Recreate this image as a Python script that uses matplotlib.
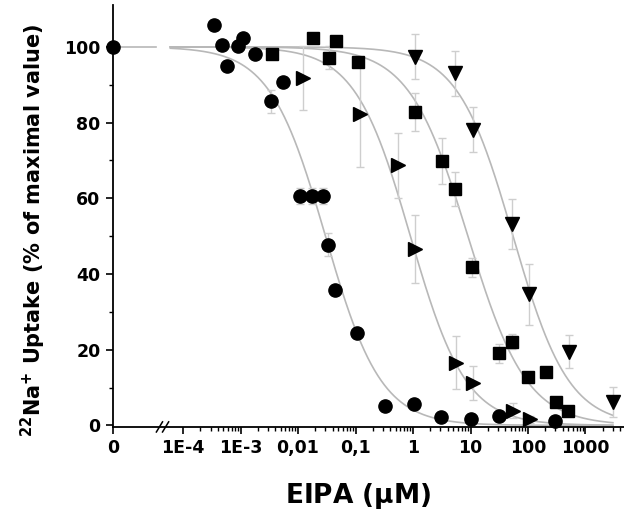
import numpy as np
import matplotlib
matplotlib.use("Agg")
import matplotlib.pyplot as plt
from matplotlib.ticker import FixedLocator, FixedFormatter, NullFormatter

plt.rcParams['font.family'] = ['DejaVu Sans']
plt.rcParams['font.weight'] = 'bold'
plt.rcParams['mathtext.fontset'] = 'custom'
plt.rcParams['mathtext.rm'] = 'DejaVu Sans:bold'
plt.rcParams['mathtext.bf'] = 'DejaVu Sans:bold'

# EIPA concentrations (uM) and 22Na+ uptake (% of max), one set per marker
circle_x = [0, 3.5e-4, 4.7e-4, 5.7e-4, 9e-4, 1.1e-3, 1.8e-3, 3.4e-3, 5.5e-3,
            0.0108, 0.0174, 0.0275, 0.033, 0.044, 0.105, 0.32, 1.05, 3.1, 10, 31.5, 300]
circle_y = [100, 105.8, 100.4, 94.9, 100.3, 102.4, 98.2, 85.6, 90.6,
            60.6, 60.6, 60.6, 47.7, 35.7, 24.3, 5.2, 5.7, 2.2, 1.8, 2.4, 1.1]
circle_err = [0, 0, 0, 0, 0, 0, 0, 3, 0, 2, 2, 2, 3, 0, 0, 0, 0, 0, 0, 0, 0]

tri_r_x = [0.0123, 0.12, 0.556, 1.08, 5.6, 11.2, 54, 108]
tri_r_y = [91.7, 82.2, 68.7, 46.6, 16.6, 11.2, 3.9, 1.6]
tri_r_err = [8.5, 14, 8.5, 9, 7, 4.6, 2, 1]

square_x = [3.5e-3, 0.018, 0.034, 0.045, 0.112, 1.08, 3.24, 5.4, 10.7, 31.4, 52, 102, 205, 303, 500]
square_y = [98.1, 102.4, 97.1, 101.5, 96.1, 82.8, 69.8, 62.4, 41.8, 19.1, 22.1, 12.9, 14.1, 6.2, 3.8]
square_err = [0, 0, 3, 0, 0, 5, 6, 4.5, 2.5, 2.5, 2, 0, 0, 1, 0]

tri_d_x = [1.08, 5.4, 11, 52, 106, 515, 3000]
tri_d_y = [97.4, 93, 78.1, 53.2, 34.6, 19.5, 6.2]
tri_d_err = [6, 6, 6, 6.5, 8, 4.4, 4]

# fitted dose-response curves: IC50 (uM) and Hill slope
ic50 = [0.03, 0.9, 9, 55]
hill = [0.9, 0.9, 0.85, 0.9]

tick_vals = [0, 1e-4, 1e-3, 1e-2, 1e-1, 1, 10, 100, 1000]
tick_labels = ['0', '1E-4', '1E-3', '0,01', '0,1', '1', '10', '100', '1000']

ZERO_POS = -5.22  # where "0" sits on the log axis


def fwd(x):
    x = np.asarray(x, dtype=float)
    with np.errstate(divide='ignore', invalid='ignore'):
        u = np.log10(np.where(x > 0, x, 1.0))
    return np.where(x > 0, u, ZERO_POS)


def inv(u):
    return 10.0 ** np.asarray(u, dtype=float)


fig = plt.figure(figsize=(6.24, 5.2), dpi=100)
ax = fig.add_axes([0.181, 0.179, 0.819, 0.811])
ax.set_xscale('function', functions=(fwd, inv))
ax.set_xlim(0, 10 ** 3.67)
ax.set_ylim(-0.4, 111)

curve_col = '#b8b8b8'
err_col = '#cecece'

# flat part between 0 and the axis break
ax.plot([0, 3.4e-5], [100, 100], color=curve_col, lw=1.2, zorder=1)
xc = np.logspace(np.log10(6e-5), np.log10(3000), 400)
for c, n in zip(ic50, hill):
    ax.plot(xc, 100 / (1 + (xc / c) ** n), color=curve_col, lw=1.2, zorder=1)

series = [
    (circle_x, circle_y, circle_err, 'o', 9.5),
    (tri_r_x, tri_r_y, tri_r_err, '>', 10),
    (square_x, square_y, square_err, 's', 8.5),
    (tri_d_x, tri_d_y, tri_d_err, 'v', 10),
]
for xs, ys, es, mk, ms in series:
    xs = np.array(xs, dtype=float)
    ys = np.array(ys, dtype=float)
    es = np.array(es, dtype=float)
    has = es > 0
    ax.errorbar(xs[has], ys[has], yerr=es[has], fmt='none', ecolor=err_col,
                elinewidth=1, capsize=3, capthick=1, zorder=2)
    ax.plot(xs, ys, mk, color='black', ms=ms, mec='black', clip_on=False, zorder=3)

# axis break marks
for dx in (0.0, 0.012):
    ax.plot([0.085 + dx, 0.097 + dx], [-0.012, 0.012], transform=ax.transAxes,
            color='black', lw=1.1, clip_on=False, zorder=4)

ax.spines['top'].set_visible(False)
ax.spines['right'].set_visible(False)
for s in ('left', 'bottom'):
    ax.spines[s].set_linewidth(1.3)

ax.xaxis.set_major_locator(FixedLocator(tick_vals))
ax.xaxis.set_major_formatter(FixedFormatter(tick_labels))
minor = [m * 10.0 ** e for e in range(-4, 4) for m in range(2, 10) if m * 10.0 ** e < 10 ** 3.67]
ax.xaxis.set_minor_locator(FixedLocator(minor))
ax.xaxis.set_minor_formatter(NullFormatter())

ax.set_yticks([0, 20, 40, 60, 80, 100])
ax.yaxis.set_minor_locator(FixedLocator([10, 30, 50, 70, 90]))

ax.tick_params(axis='both', which='major', direction='out', length=5, width=1.2,
               labelsize=12.5, pad=4)
ax.tick_params(axis='both', which='minor', direction='out', length=3, width=1)
for lab in ax.get_xticklabels() + ax.get_yticklabels():
    lab.set_fontweight('bold')

ax.set_xlabel(r'EIPA ($\mathregular{\mu}$M)', fontsize=19, fontweight='bold')
ax.set_ylabel(r'$\mathregular{^{22}}$Na$\mathregular{^{+}}$ Uptake (% of maximal value)',
              fontsize=15, fontweight='bold')
ax.xaxis.set_label_coords(0.48, -0.128)
ax.yaxis.set_label_coords(-0.128, 0.465)

fig.savefig('out.png', dpi=100)
